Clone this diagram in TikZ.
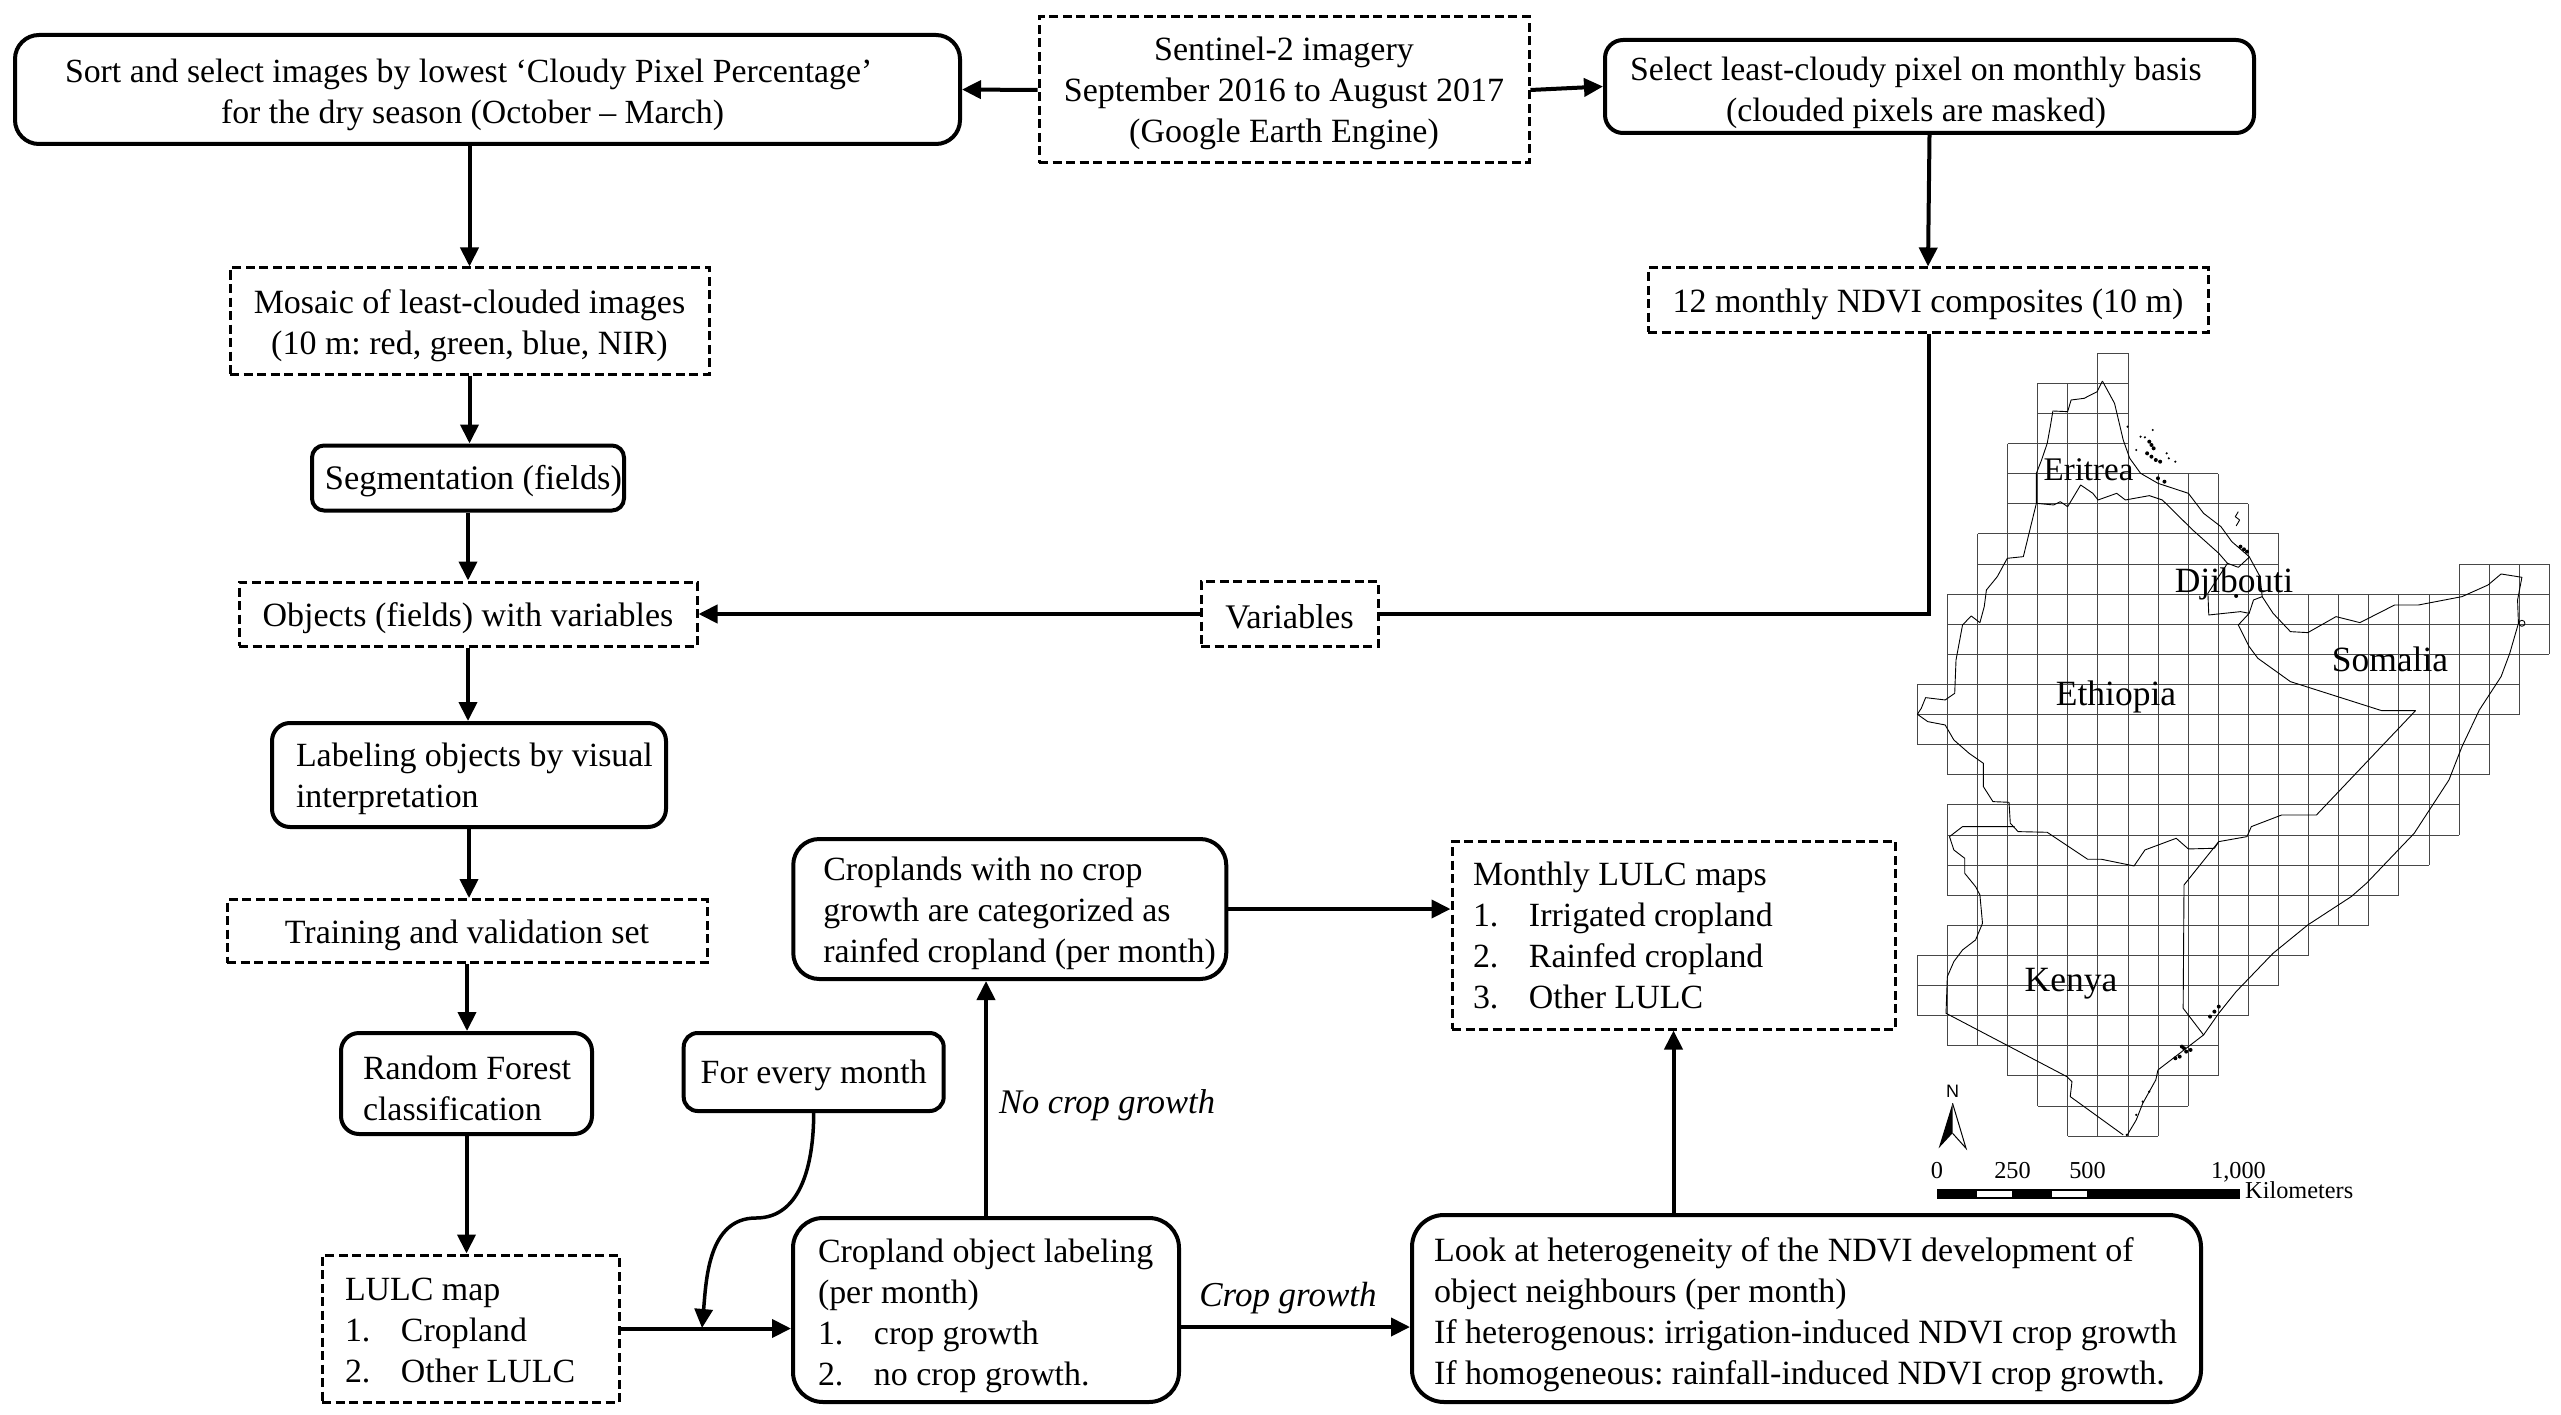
\documentclass[tikz,border=0pt]{standalone}
\usepackage{fontspec}
\setmainfont{Liberation Serif}
\setsansfont{Liberation Sans}
\usetikzlibrary{arrows.meta}
\tikzset{
    fs/.style={font=\fontsize{#1}{41}\selectfont},
    drop/.code={\def\dropheight{#1}},
    flowtext/.style={fs=33.9, drop=33pt, execute at begin node={\rule{0pt}{\dropheight}}},
    softbox/.style={flowtext, draw, line width=4pt, rounded corners=18pt, inner sep=0pt, align=flush center},
    dashbox/.style={flowtext, fs=34, draw, line width=3pt, dash pattern=on 9pt off 4.5pt, inner sep=0pt, align=flush center},
    leftset/.style={align=flush left, inner xsep=#1},
    link/.style={line width=4pt, -{Triangle[length=19pt,width=18pt]}},
    wire/.style={line width=4pt},
    gridline/.style={line width=1pt, black!72},
    border/.style={line width=0.9pt, line join=round},
    country/.style={font=\fontsize{35.5}{40}\selectfont, anchor=base},
    scaletext/.style={font=\fontsize{24.3}{28}\selectfont, anchor=base}
}
\begin{document}
\frenchspacing
\begin{tikzpicture}[x=1pt,y=-1pt]
    \useasboundingbox (0,0) rectangle (2561,1415);
    % map: coordinates
    \begin{scope}[shift={(1880,330)},x=0.4343pt,y=-0.3333pt]
        \def\cw{69.3};
        \def\ch{90.33};
        \foreach \r/\a/\b in {0/6/7,1/4/7,2/4/7,3/3/7,4/3/10,5/3/11,6/2/12,7/2/12,7/18/21,8/1/21,9/1/21,10/1/20,11/0/20,12/0/19,13/1/19,14/2/18,15/1/18,16/1/17,17/1/16,18/2/15,19/1/13,20/0/12,21/0/11,22/1/10,23/3/10,24/4/9,25/5/8}{
            \draw[gridline] ({86+\a*\cw},{70+\r*\ch}) -- ({86+\b*\cw},{70+\r*\ch});
            \draw[gridline] ({86+\a*\cw},{70+(\r+1)*\ch}) -- ({86+\b*\cw},{70+(\r+1)*\ch});
            \foreach \i in {\a,...,\b}{
                \draw[gridline] ({86+\i*\cw},{70+\r*\ch}) -- ({86+\i*\cw},{70+(\r+1)*\ch});}
        }
        % western border down to the Kenya corner and along to Somalia
        \draw[border] (512,153) -- (500,185) -- (470,205) -- (440,210) -- (432,245) -- (398,243) -- (392,290) -- (385,340) -- (372,390) -- (360,430) -- (360,520) -- (345,600) -- (330,680) -- (293,685) -- (270,740) -- (245,780) -- (240,830) -- (230,878) -- (210,858) -- (190,885) -- (175,990) -- (172,1090) -- (150,1110) -- (105,1103) -- (95,1135) -- (86,1153) -- (110,1175) -- (150,1185) -- (170,1230) -- (205,1270) -- (238,1300) -- (238,1370) -- (260,1415) -- (297,1417) -- (300,1480) -- (318,1505) -- (385,1507) -- (478,1588) -- (510,1588) -- (585,1608) -- (610,1560) -- (682,1525) -- (710,1557) -- (770,1555) -- (780,1535) -- (845,1520) -- (855,1490) -- (925,1455) -- (1005,1455) -- (1233,1142) -- (1155,1142) -- (945,1055) -- (870,985) -- (850,950) -- (825,885) -- (850,850);
        % coast
        \draw[border] (512,153) -- (540,220) -- (560,330) -- (575,385) -- (600,430) -- (640,460) -- (710,490) -- (745,550) -- (785,590) -- (810,635) -- (850,680) -- (875,740) -- (880,800) -- (905,850) -- (945,905) -- (985,908) -- (1050,860) -- (1105,878) -- (1185,825) -- (1240,825) -- (1340,800) -- (1400,765) -- (1430,732) -- (1478,742) -- (1468,810) -- (1470,880) -- (1450,970) -- (1430,1040) -- (1380,1140) -- (1340,1250) -- (1310,1350) -- (1230,1510) -- (1120,1660) -- (1085,1700) -- (985,1785) -- (905,1870) -- (820,1985) -- (780,2050) -- (745,2115) -- (700,2160) -- (640,2220) -- (635,2250) -- (605,2320) -- (590,2370) -- (568,2418);
        % Eritrea and Djibouti
        \draw[border] (360,520) -- (400,525) -- (415,515) -- (432,530) -- (462,465) -- (490,490) -- (502,510) -- (545,490) -- (565,510) -- (620,497) -- (650,510) -- (720,600) -- (780,670) -- (800,700) -- (825,712) -- (850,682);
        \draw[border] (800,700) -- (755,790) -- (757,855) -- (830,845) -- (850,850) -- (860,810) -- (880,800);
        % Kenya
        \draw[border] (310,1490) -- (190,1490) -- (160,1520) -- (170,1560) -- (195,1585) -- (195,1630) -- (220,1670) -- (230,1695) -- (236,1780) -- (220,1830) -- (190,1860) -- (170,1895) -- (155,1940) -- (152,2050) -- (430,2240) -- (442,2255) -- (438,2300) -- (560,2415);
        \draw[border] (780,1535) -- (700,1665) -- (698,2035) -- (745,2115);
        % islands and inlets
        \foreach \p/\q in {600/320,610/322,660/370,680/395,665/385,628/300,570/290,590/360,620/2285,605/2315,590/2355,568/2415}{
            \fill (\p,\q) circle (1.2pt);}
        \foreach \p/\q in {625/345,620/335,630/355,615/370,625/380,635/390,645/395,640/445,655/455,838/658,830/650,845/665,820/798,700/2155,690/2180,705/2165,695/2150,715/2160,680/2185,780/2030,770/2045,760/2060}{
            \fill (\p,\q) circle (2pt);}
        \draw[border] (825,545) -- (818,560) -- (828,570) -- (820,588);
        \draw[border] (1478,880) circle (3pt);
        % north arrow
        \fill (167,2320) -- (135,2455) -- (167,2410) -- cycle;
        \draw[line width=1pt] (167,2320) -- (198,2455) -- (167,2410);
        \node[font=\sffamily\fontsize{18}{20}\selectfont] (north) at (167,2285) {N};
    \end{scope}
    % map labels
    \node[country, font=\fontsize{33}{40}\selectfont] (eritrea) at (2088.5,480) {Eritrea};
    \node[country] (djibouti) at (2234,592) {Djibouti};
    \node[country] (somalia) at (2390,671) {Somalia};
    \node[country] (ethiopia) at (2116,705) {Ethiopia};
    \node[country] (kenya) at (2071,991) {Kenya};
    % scale bar
    \fill (1936.5,1189) rectangle (2239.5,1199);
    \fill[white] (1976.5,1191) rectangle (2011.5,1197);
    \fill[white] (2051.5,1191) rectangle (2087,1197);
    \node[scaletext] (zero) at (1937,1178) {0};
    \node[scaletext] (twofifty) at (2012.5,1178) {250};
    \node[scaletext] (fivehundred) at (2087.5,1178) {500};
    \node[scaletext] (thousand) at (2238.5,1178) {1,000};
    \node[scaletext, anchor=base west, inner xsep=0pt] (kilometers) at (2245,1198) {Kilometers};
    % boxes of the flow chart
    \node[softbox, fs=33.8, drop=35pt, leftset=50pt, text width=845pt, minimum height=109pt, rounded corners=24pt] (sort) at (487.5,89.5) {Sort and select images by lowest ‘Cloudy Pixel Percentage’\\\hspace*{156pt}for the dry season (October -- March)};
    \node[dashbox, text width=490pt, minimum height=146pt, drop=31pt] (sentinel) at (1284,90) {Sentinel-2 imagery\\September 2016 to August 2017\\(Google Earth Engine)};
    \node[softbox, fs=33.8, drop=36pt, leftset=25pt, text width=599pt, minimum height=93pt] (select) at (1929.5,86.5) {Select least-cloudy pixel on monthly basis\\\hspace*{96pt}(clouded pixels are masked)};
    \node[dashbox, text width=479pt, minimum height=106pt] (mosaic) at (469.5,321) {Mosaic of least-clouded images\\(10 m: red, green, blue, NIR)};
    \node[dashbox, minimum width=560pt, minimum height=64pt] (ndvi) at (1928,300) {12 monthly NDVI composites (10 m)};
    \node[softbox, fs=34.4, drop=30pt, minimum width=312pt, minimum height=65pt, rounded corners=12pt] (segmentation) at (468,478) {\hspace*{11pt}Segmentation (fields)};
    \node[dashbox, minimum width=458pt, minimum height=64pt] (objects) at (468,614) {Objects (fields) with variables};
    \node[dashbox, fs=34.5, drop=29pt, minimum width=177pt, minimum height=65pt] (variables) at (1289.5,614) {Variables};
    \node[softbox, drop=31pt, leftset=24pt, text width=346pt, minimum height=104pt] (labeling) at (469,775) {\mbox{Labeling objects by visual}\\interpretation};
    \node[dashbox, minimum width=480pt, minimum height=63pt] (training) at (467,931) {Training and validation set};
    \node[softbox, leftset=22pt, text width=207pt, minimum height=101pt] (forest) at (466.5,1083.5) {\mbox{Random Forest}\\classification};
    \node[softbox, drop=30pt, minimum width=260pt, minimum height=78pt, rounded corners=14pt] (every) at (813.7,1072) {For every month};
    \node[dashbox, fs=33.9, drop=27pt, leftset=23pt, text width=251pt, minimum height=147pt] (lulc) at (470.5,1328.5) {LULC map\\\makebox[56pt][l]{1.}Cropland\\\makebox[56pt][l]{2.}Other LULC};
    \node[softbox, drop=36pt, leftset=25pt, text width=336pt, minimum height=184pt, rounded corners=30pt] (cropland) at (986,1310) {\mbox{Cropland object labeling}\\(per month)\\\makebox[56pt][l]{1.}crop growth\\\makebox[56pt][l]{2.}no crop growth.};
    \node[softbox, leftset=30pt, text width=373pt, minimum height=140pt, rounded corners=26pt] (croplands) at (1009.75,909) {Croplands with no crop\\growth are categorized as\\\mbox{rainfed cropland (per month)}};
    \node[dashbox, fs=33.9, drop=25pt, leftset=21pt, text width=401pt, minimum height=188pt] (monthly) at (1673.5,935) {Monthly LULC maps\\\makebox[56pt][l]{1.}Irrigated cropland\\\makebox[56pt][l]{2.}Rainfed cropland\\\makebox[56pt][l]{3.}Other LULC};
    \node[softbox, fs=34, drop=36pt, leftset=22pt, text width=745pt, minimum height=187pt, rounded corners=32pt] (look) at (1806.5,1308.5) {Look at heterogeneity of the NDVI development of\\object neighbours (per month)\\\mbox{If heterogenous: irrigation-induced NDVI crop growth}\\\mbox{If homogeneous: rainfall-induced NDVI crop growth.}};
    % edge labels
    \node[font=\fontsize{34.5}{41}\selectfont\itshape] (nogrowth) at (1107,1105.5) {No crop growth};
    \node[font=\fontsize{35}{41}\selectfont\itshape] (growth) at (1288,1298.5) {Crop growth};
    % helpers
    \coordinate (turn) at (1929,614);
    \coordinate (bend) at (756,1218);
    \coordinate (merge) at (702,1328);
    % arrows
    \draw[link] (sentinel.west) -- (sort.east);
    \draw[link] (sentinel.east) -- (select.west);
    \draw[link] (sort.south -| mosaic.north) -- (mosaic.north);
    \draw[link] (mosaic.south) -- (mosaic.south |- segmentation.north);
    \draw[link] (segmentation.south) -- (objects.north);
    \draw[link] (objects.south) -- (objects.south |- labeling.north);
    \draw[link] (labeling.south) -- (labeling.south |- training.north);
    \draw[link] (training.south) -- (training.south |- forest.north);
    \draw[link] (forest.south) -- (forest.south |- lulc.north);
    \draw[link] (select.south) -- (ndvi.north);
    \draw[wire] (variables.east) -| (turn |- ndvi.south);
    \draw[link] (variables.west) -- (objects.east);
    \draw[link] (lulc.east) -- (lulc.east -| cropland.west);
    \draw[link, line width=3.5pt] (every.south) to[out=-90,in=0] (bend) to[out=180,in=85] (merge);
    \draw[link] (cropland.north) -- (cropland.north |- croplands.south);
    \draw[link] (croplands.east) -- (croplands.east -| monthly.west);
    \draw[link] ([yshift=-17pt]cropland.east) -- ([yshift=-17pt]cropland.east -| look.west);
    \draw[link] (monthly.south |- look.north) -- (monthly.south);
\end{tikzpicture}
\end{document}
